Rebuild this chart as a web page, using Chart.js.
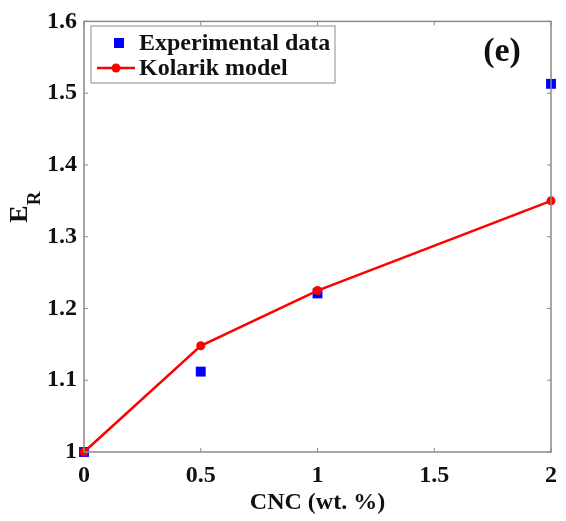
<!DOCTYPE html>
<html>
<head>
<meta charset="utf-8">
<script src="https://cdn.jsdelivr.net/npm/chart.js@4/dist/chart.umd.min.js"></script>
<style>
    html, body { margin: 0; padding: 0; background: #fff; }
    #wrap { width: 566px; height: 521px; }
</style>
</head>
<body>
<div id="wrap"><canvas id="erChart"></canvas></div>
<script>
// data
const cncLoading = [0, 0.5, 1, 2];
const experimentalER = [1.0, 1.112, 1.221, 1.513];
const kolarikER = [1.0, 1.148, 1.225, 1.350];
const xTicks = [0, 0.5, 1, 1.5, 2];
const yTicks = [1, 1.1, 1.2, 1.3, 1.4, 1.5, 1.6];

const serif = '"Liberation Serif", "Times New Roman", serif';
const axisGray = '#8a8a8a';

function toPoints(xs, ys) {
    return xs.map((x, i) => ({ x: x, y: ys[i] }));
}

// box, inward ticks, legend, panel tag and the E_R label
const decorPlugin = {
    id: 'decor',
    afterDraw(chart) {
        const ctx = chart.ctx;
        const area = chart.chartArea;
        const xs = chart.scales.x;
        const ys = chart.scales.y;
        ctx.save();

        // axes box
        ctx.strokeStyle = axisGray;
        ctx.lineWidth = 1.5;
        ctx.strokeRect(area.left, area.top, area.right - area.left, area.bottom - area.top);

        // inward tick marks on all four sides
        const tl = 4;
        ctx.lineWidth = 1;
        ctx.beginPath();
        xTicks.forEach((v) => {
            const px = xs.getPixelForValue(v);
            ctx.moveTo(px, area.bottom);
            ctx.lineTo(px, area.bottom - tl);
            ctx.moveTo(px, area.top);
            ctx.lineTo(px, area.top + tl);
        });
        yTicks.forEach((v) => {
            const py = ys.getPixelForValue(v);
            ctx.moveTo(area.left, py);
            ctx.lineTo(area.left + tl, py);
            ctx.moveTo(area.right, py);
            ctx.lineTo(area.right - tl, py);
        });
        ctx.stroke();

        // legend
        ctx.fillStyle = '#fff';
        ctx.fillRect(91, 26, 244, 57);
        ctx.strokeStyle = axisGray;
        ctx.lineWidth = 1;
        ctx.strokeRect(91, 26, 244, 57);

        ctx.fillStyle = '#0000ff';
        ctx.fillRect(114, 38, 10, 10);

        ctx.strokeStyle = '#ff0000';
        ctx.lineWidth = 2.5;
        ctx.beginPath();
        ctx.moveTo(97, 68);
        ctx.lineTo(135, 68);
        ctx.stroke();
        ctx.fillStyle = '#ff0000';
        ctx.beginPath();
        ctx.arc(116, 68, 4.5, 0, Math.PI * 2);
        ctx.fill();

        ctx.fillStyle = '#111';
        ctx.font = 'bold 24px ' + serif;
        ctx.textAlign = 'left';
        ctx.textBaseline = 'middle';
        ctx.fillText('Experimental data', 139, 44);
        ctx.fillText('Kolarik model', 139, 69);

        // panel tag
        ctx.font = 'bold 34px ' + serif;
        ctx.textAlign = 'center';
        ctx.fillText('(e)', 502, 52);

        // y axis title with subscript
        ctx.translate(27, 207);
        ctx.rotate(-Math.PI / 2);
        ctx.textAlign = 'left';
        ctx.textBaseline = 'alphabetic';
        ctx.font = 'bold 26px ' + serif;
        const eWidth = ctx.measureText('E').width;
        const total = eWidth + 14;
        ctx.fillText('E', -total / 2, 0);
        ctx.font = 'bold 19px ' + serif;
        ctx.fillText('R', -total / 2 + eWidth, 13);

        ctx.restore();
    }
};

const ctx = document.getElementById('erChart');
const config = {
    type: 'scatter',
    data: {
        datasets: [
            {
                label: 'Experimental data',
                data: toPoints(cncLoading, experimentalER),
                pointStyle: 'rect',
                pointRadius: 7,
                pointHoverRadius: 7,
                backgroundColor: '#0000ff',
                borderColor: '#0000ff',
                borderWidth: 0,
                showLine: false,
                clip: false,
                order: 1,
            },
            {
                label: 'Kolarik model',
                data: toPoints(cncLoading, kolarikER),
                showLine: true,
                borderColor: '#ff0000',
                borderWidth: 2.5,
                backgroundColor: '#ff0000',
                pointStyle: 'circle',
                pointRadius: 4.5,
                pointHoverRadius: 4.5,
                pointBorderWidth: 0,
                clip: false,
                order: 0,
            },
        ],
    },
    options: {
        responsive: true,
        maintainAspectRatio: false,
        animation: false,
        layout: {
            padding: { top: 18, right: 14, left: 0, bottom: 0 },
        },
        plugins: {
            legend: { display: false },
            tooltip: { enabled: false },
        },
        scales: {
            x: {
                type: 'linear',
                min: 0,
                max: 2,
                afterFit: (scale) => { scale.height = 69; },
                afterBuildTicks: (scale) => {
                    scale.ticks = xTicks.map((v) => ({ value: v }));
                },
                grid: { display: false, drawTicks: false },
                border: { display: false },
                ticks: {
                    padding: 9,
                    color: '#111',
                    font: { family: serif, size: 24, weight: 'bold' },
                    callback: (v) => String(v),
                },
                title: {
                    display: true,
                    text: 'CNC (wt. %)',
                    color: '#111',
                    font: { family: serif, size: 24, weight: 'bold' },
                    padding: { top: 0, bottom: 4 },
                },
            },
            y: {
                type: 'linear',
                min: 1,
                max: 1.6,
                afterFit: (scale) => { scale.width = 84; },
                afterBuildTicks: (scale) => {
                    scale.ticks = yTicks.map((v) => ({ value: v }));
                },
                grid: { display: false, drawTicks: false },
                border: { display: false },
                ticks: {
                    padding: 7,
                    color: '#111',
                    font: { family: serif, size: 24, weight: 'bold' },
                    callback: (v) => String(Math.round(v * 10) / 10),
                },
            },
        },
    },
    plugins: [decorPlugin],
};

const erChart = new Chart(ctx, config);
</script>
</body>
</html>
